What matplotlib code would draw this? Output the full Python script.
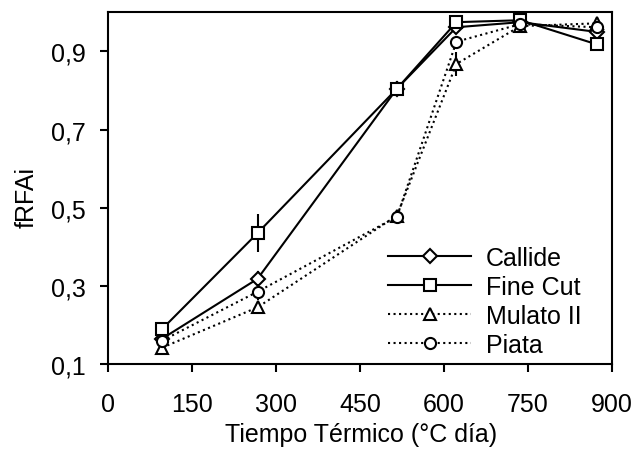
import matplotlib
matplotlib.use("Agg")
import matplotlib.pyplot as plt

plt.rcParams['font.family'] = ['Liberation Sans', 'DejaVu Sans']

tiempo = [97, 267, 516, 622, 736, 873]

callide = [0.165, 0.318, 0.805, 0.962, 0.975, 0.950]
callide_err = [0.01, 0.02, 0.02, 0.01, 0.01, 0.01]
fine_cut = [0.190, 0.435, 0.805, 0.975, 0.980, 0.918]
fine_cut_err = [0.01, 0.048, 0.02, 0.01, 0.01, 0.01]
mulato = [0.142, 0.245, 0.480, 0.868, 0.965, 0.972]
mulato_err = [0.01, 0.01, 0.01, 0.03, 0.01, 0.01]
piata = [0.160, 0.285, 0.477, 0.925, 0.970, 0.962]
piata_err = [0.01, 0.02, 0.01, 0.01, 0.01, 0.01]

series = [
  ("Callide", callide, callide_err, "D", "-", 7),
  ("Fine Cut", fine_cut, fine_cut_err, "s", "-", 9),
  ("Mulato II", mulato, mulato_err, "^", ":", 8),
  ("Piata", piata, piata_err, "o", ":", 8),
]

fs = 18

fig = plt.figure(figsize=(6.35, 4.56), dpi=100)
ax = fig.add_axes([0.170, 0.1996, 0.794, 0.771])

for name, vals, err, mk, ls, ms in series:
  ax.errorbar(tiempo, vals, yerr=err, fmt='none', ecolor='black', elinewidth=1.5, capsize=0)
  ax.plot(tiempo, vals, label=name, color='black', marker=mk, linestyle=ls,
          linewidth=1.5, markersize=ms, markerfacecolor='white',
          markeredgecolor='black', markeredgewidth=1.5)

ax.set_xlim(0, 900)
ax.set_ylim(0.1, 1.0)
ax.set_xticks([0, 150, 300, 450, 600, 750, 900])
ax.set_yticks([0.1, 0.3, 0.5, 0.7, 0.9])
ax.set_yticklabels(["0,1", "0,3", "0,5", "0,7", "0,9"])
ax.tick_params(direction='out', length=6, width=1.5, labelsize=fs, top=False, right=False)
ax.tick_params(axis='x', pad=14)
ax.tick_params(axis='y', pad=10)
for sp in ax.spines.values():
  sp.set_linewidth(1.5)

ax.set_xlabel("Tiempo Térmico (°C día)", fontsize=fs)
ax.set_ylabel("fRFAi", fontsize=fs)
ax.xaxis.set_label_coords(0.503, -0.165)
ax.yaxis.set_label_coords(-0.138, 0.475)

leg = ax.legend(loc='upper left', bbox_to_anchor=(0.556, 0.335), frameon=False,
                fontsize=fs, handlelength=3.3, labelspacing=0.2, handletextpad=0.6,
                borderaxespad=0, borderpad=0)

fig.savefig("out.png", dpi=100)
